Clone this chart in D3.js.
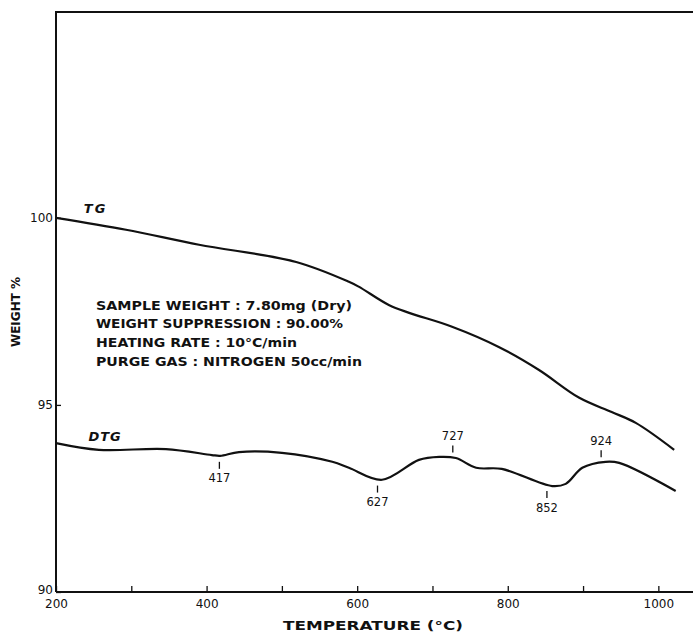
<!DOCTYPE html>
<html><head><meta charset="utf-8">
<script src="https://cdn.jsdelivr.net/npm/d3@7"></script>
<style>
body{margin:0;background:#fff;}
svg{display:block;}
text{fill:#111;font-family:"DejaVu Sans",sans-serif;}
</style></head>
<body><div id="chart"></div>
<script>
// Temperature (°C) grid for TG curve
const tgTemp = [200, 293, 390, 519, 589, 602, 642, 669, 726, 788, 841, 895, 938, 970, 1021];
const tgWeight = [100, 99.68, 99.28, 98.82, 98.29, 98.16, 97.67, 97.46, 97.09, 96.55, 95.94, 95.19, 94.81, 94.52, 93.80];
// DTG curve (plotted on the weight scale)
const dtgTemp = [200, 257, 346, 407, 418, 443, 500, 567, 589, 633, 682, 709, 731, 758, 792, 859, 877, 899, 930, 948, 1023];
const dtgValue = [93.98, 93.80, 93.82, 93.66, 93.64, 93.74, 93.72, 93.48, 93.32, 93.0, 93.53, 93.61, 93.58, 93.32, 93.29, 92.83, 92.89, 93.32, 93.48, 93.45, 92.70];
// Peak annotations
const peakTemps = [417, 627, 727, 852, 924];
const peakSides = ["below", "below", "above", "below", "above"];
// Axes
const xTicksMajor = [200, 400, 600, 800, 1000];
const xTicksMinor = [300, 500, 700, 900];
const yTicks = [90, 95, 100];
const infoLines = [
  "SAMPLE WEIGHT : 7.80mg (Dry)",
  "WEIGHT SUPPRESSION : 90.00%",
  "HEATING RATE : 10°C/min",
  "PURGE GAS : NITROGEN 50cc/min"
];
const infoWidths = [256, 247, 201, 266];

const W = 693, H = 637;
const svg = d3.select("#chart").append("svg").attr("width", W).attr("height", H);

const x = d3.scaleLinear().domain([200, 1050]).range([56, 696]);
const y = d3.scaleLinear().domain([90, 105.5]).range([592, 12]);

const ink = "#111";
svg.append("line").attr("x1", x(200)).attr("x2", x(200)).attr("y1", y(105.5)).attr("y2", y(90))
  .attr("stroke", ink).attr("stroke-width", 2);
svg.append("line").attr("x1", x(200) - 1).attr("x2", W).attr("y1", y(105.5)).attr("y2", y(105.5))
  .attr("stroke", ink).attr("stroke-width", 2);

const xAxis = svg.append("g").attr("transform", `translate(0,${y(90)})`)
  .call(d3.axisBottom(x).tickValues(xTicksMajor.concat(xTicksMinor)).tickSize(-6).tickPadding(6)
    .tickFormat(d => xTicksMajor.includes(d) ? d : ""));
xAxis.select(".domain").attr("stroke", ink).attr("stroke-width", 2).attr("d", `M${x(200)},0H${W}`);
xAxis.selectAll(".tick line").attr("stroke", ink).attr("stroke-width", 1.3);
xAxis.selectAll(".tick text").attr("font-size", 12).attr("dy", "0.8em").style("font-family", "DejaVu Sans");

const yAxis = svg.append("g").attr("transform", `translate(${x(200)},0)`)
  .call(d3.axisLeft(y).tickValues(yTicks).tickSize(-5).tickPadding(3));
yAxis.select(".domain").remove();
yAxis.selectAll(".tick line").attr("stroke", ink).attr("stroke-width", 1.3);
yAxis.selectAll(".tick text").attr("font-size", 12).style("font-family", "DejaVu Sans")
  .attr("dy", d => d === 90 ? "0.1em" : "0.32em");

const line = d3.line().x(d => x(d[0])).y(d => y(d[1])).curve(d3.curveCatmullRom.alpha(0.5));
const tg = tgTemp.map((t, i) => [t, tgWeight[i]]);
const dtg = dtgTemp.map((t, i) => [t, dtgValue[i]]);
svg.append("path").datum(tg).attr("d", line).attr("fill", "none").attr("stroke", ink).attr("stroke-width", 2.2);
const dtgPath = svg.append("path").datum(dtg).attr("d", line).attr("fill", "none").attr("stroke", ink).attr("stroke-width", 2.2);

svg.append("text").attr("x", x(237)).attr("y", y(100) - 5).text("TG")
  .attr("font-size", 13).attr("font-style", "italic").attr("font-weight", "bold").attr("letter-spacing", 2);
svg.append("text").attr("x", x(243)).attr("y", y(94) - 1).text("DTG")
  .attr("font-size", 13).attr("font-style", "italic").attr("font-weight", "bold").attr("letter-spacing", 1);

const pathNode = dtgPath.node();
const totalLen = pathNode.getTotalLength();
function curveYAt(px) {
  let lo = 0, hi = totalLen;
  for (let k = 0; k < 40; k++) {
    const mid = (lo + hi) / 2;
    if (pathNode.getPointAtLength(mid).x < px) lo = mid; else hi = mid;
  }
  return pathNode.getPointAtLength(lo).y;
}
peakTemps.forEach((t, i) => {
  const px = x(t);
  const cy = curveYAt(px);
  const below = peakSides[i] === "below";
  const y1 = below ? cy + 6 : cy - 5;
  const y2 = below ? cy + 13 : cy - 12;
  svg.append("line").attr("x1", px).attr("x2", px).attr("y1", y1).attr("y2", y2)
    .attr("stroke", ink).attr("stroke-width", 1.3);
  svg.append("text").attr("x", px).attr("y", below ? cy + 23 : cy - 21)
    .attr("text-anchor", "middle").attr("dominant-baseline", "middle")
    .attr("font-size", 11.5).text(t);
});

infoLines.forEach((s, i) => {
  svg.append("text").attr("x", 96).attr("y", 306 + i * 18.7).attr("dominant-baseline", "middle")
    .attr("font-size", 13).attr("font-weight", "bold")
    .attr("textLength", infoWidths[i]).attr("lengthAdjust", "spacingAndGlyphs").text(s);
});

svg.append("text").attr("transform", `translate(20,${312}) rotate(-90)`).attr("text-anchor", "middle")
  .attr("font-size", 12).attr("font-weight", "bold").text("WEIGHT %");
svg.append("text").attr("x", 373).attr("y", 630).attr("text-anchor", "middle")
  .attr("font-size", 13).attr("font-weight", "bold").attr("textLength", 180).attr("lengthAdjust", "spacingAndGlyphs")
  .text("TEMPERATURE (°C)");
</script></body></html>
